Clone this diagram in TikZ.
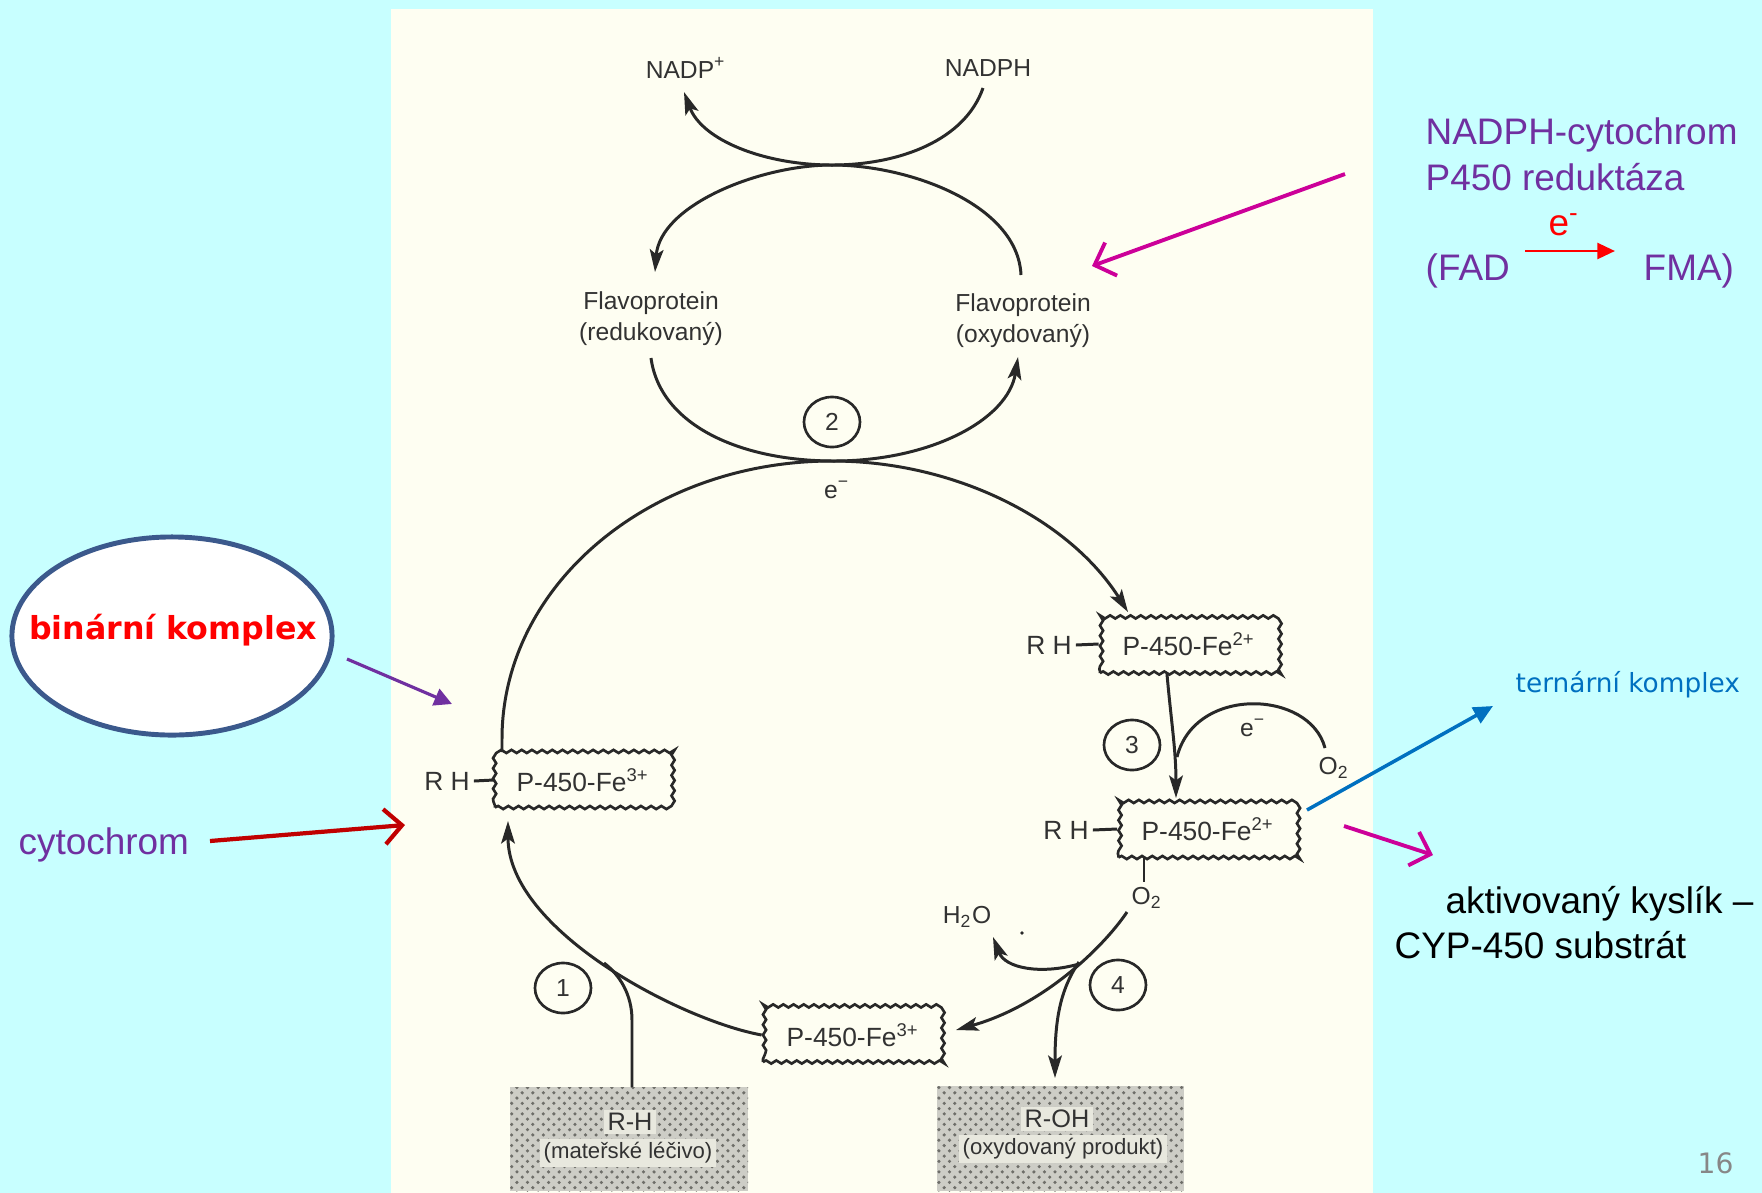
\documentclass[tikz,border=0pt]{standalone}
\usepackage{fontspec}
\setmainfont{Liberation Sans}
\newfontfamily\dvf{DejaVu Sans}
\usetikzlibrary{arrows.meta,decorations.pathmorphing,shapes.geometric,patterns}
\definecolor{bgc}{RGB}{200,255,255}
\definecolor{cream}{RGB}{254,254,242}
\definecolor{inkc}{RGB}{40,40,40}
\definecolor{txc}{RGB}{50,50,50}
\definecolor{purp}{RGB}{112,48,160}
\definecolor{mag}{RGB}{204,0,153}
\definecolor{dred}{RGB}{192,0,0}
\definecolor{blu}{RGB}{0,112,192}
\definecolor{ellc}{RGB}{59,89,140}
\definecolor{stipc}{RGB}{110,110,105}
\definecolor{stipbg}{RGB}{205,205,198}
\definecolor{lbl}{RGB}{232,232,222}
\definecolor{pgc}{RGB}{135,135,135}
\begin{document}
\begin{tikzpicture}[x=0.01cm,y=-0.01cm,
 ink/.style={draw=inkc,line width=0.85pt},
 arr/.style={-{Stealth[length=6.4pt,width=3.9pt,inset=1.4pt]}},
 dtext/.style={text=txc,font=\fontsize{7pt}{8.8pt}\selectfont,inner sep=1pt,align=center},
 btext/.style={text=txc,font=\fontsize{7.5pt}{9pt}\selectfont,inner sep=1pt},
 wbox/.style={draw=inkc,line width=0.75pt,fill=cream,decorate,decoration={snake,amplitude=0.45pt,segment length=2.9pt},text=txc,font=\fontsize{7.5pt}{9pt}\selectfont,inner sep=0pt},
 num/.style={ellipse,draw=inkc,line width=0.75pt,minimum width=0.56cm,minimum height=0.5cm,inner sep=0pt,text=txc,font=\fontsize{7pt}{8pt}\selectfont},
 stip/.style={fill=stipbg,postaction={pattern=crosshatch dots,pattern color=stipc}},
 ann/.style={font=\fontsize{10.5pt}{13pt}\selectfont,inner sep=0pt,anchor=base west},
 openhead/.style={-{Straight Barb[length=5pt,width=10pt]}},
]
\fill[bgc] (0,0) rectangle (1762,1193);
\useasboundingbox (0,0) rectangle (1762,1193);
\fill[cream] (391,9) rectangle (1373,1193);

% stippled boxes
\path[stip] (510,1087) rectangle (748,1191);
\path[stip] (937,1086) rectangle (1184,1191);
\node[dtext,fill=lbl,font=\fontsize{7.2pt}{9pt}\selectfont] (rh) at (630,1122) {R-H};
\node[dtext,fill=lbl,font=\fontsize{6.3pt}{8pt}\selectfont] (rhs) at (628,1153) {(mateřské léčivo)};
\node[dtext,fill=lbl,font=\fontsize{7.2pt}{9pt}\selectfont] (roh) at (1057,1119) {R-OH};
\node[dtext,fill=lbl,font=\fontsize{6.3pt}{8pt}\selectfont] (rohs) at (1063,1149) {(oxydovaný produkt)};

% labels
\node[dtext] (nadpp) at (686,68) {NADP\textsuperscript{+}};
\node[dtext] (nadph) at (988,68) {NADPH};
\node[dtext] (flr) at (651,319) {Flavoprotein\\(redukovaný)};
\node[dtext] (flo) at (1023,321) {Flavoprotein\\(oxydovaný)};
\node[num] (c2) at (832,422) {2};
\node[dtext] (em1) at (837,490) {e\textsuperscript{−}};

% boxes
\node[wbox,minimum width=1.76cm,minimum height=0.55cm] (bL) at (583,780) {P-450-Fe\textsuperscript{3+}};
\node[btext] (rhL) at (447,781) {R H};
\node[wbox,minimum width=1.78cm,minimum height=0.58cm] (bT) at (1189,644) {P-450-Fe\textsuperscript{2+}};
\node[btext] (rhT) at (1049,645) {R H};
\node[wbox,minimum width=1.79cm,minimum height=0.57cm] (bM) at (1208,829) {P-450-Fe\textsuperscript{2+}};
\node[btext] (rhM) at (1066,830) {R H};
\node[wbox,minimum width=1.8cm,minimum height=0.54cm] (bB) at (853,1035) {P-450-Fe\textsuperscript{3+}};
\draw[ink] (rhL.east) -- (bL.west);
\draw[ink] (rhT.east) -- (bT.west);
\draw[ink] (rhM.east) -- (bM.west);

\node[num] (c1) at (563,988) {1};
\node[num] (c3) at (1132,745) {3};
\node[num] (c4) at (1118,985) {4};
\node[dtext] (em3) at (1253,728) {e\textsuperscript{−}};
\node[dtext] (o2a) at (1334,768) {O\textsubscript{2}};
\node[dtext] (o2b) at (1147,898) {O\textsubscript{2}};
\node[dtext] (h2o) at (967,917) {H\textsubscript{2}O};
\fill[inkc] (1022,933) circle (1.8);

% top cycle
\draw[ink,arr] (983,88) .. controls (965,140) and (900,165) .. (832,165) .. controls (764,165) and (702,140) .. (684,92);
\draw[ink,arr] (832,165) .. controls (760,165) and (660,205) .. (655,272);
\draw[ink] (832,165) .. controls (910,165) and (1018,205) .. (1021,275);
\draw[ink,arr] (651,358) .. controls (660,425) and (740,461) .. (834,461) .. controls (930,461) and (1008,420) .. (1018,357);

% big loop
\draw[ink] (832,461) .. controls (650,461) and (502,585) .. (502,739) -- (502,752);
\draw[ink,arr] (832,461) .. controls (956,461) and (1070,520) .. (1128,612);
\draw[ink,arr] (bB.west) .. controls (680,1020) and (508,930) .. (508,821);
\draw[ink] (632,1087) -- (632,1020) .. controls (632,995) and (620,975) .. (604,963);

% step 3
\draw[ink,arr] (1167,674) .. controls (1171,720) and (1176,750) .. (1176,798);
\draw[ink] (1325,748) .. controls (1310,690) and (1195,685) .. (1177,757);
\draw[ink] (1144,858) -- (1144,882);

% step 4
\draw[ink,arr] (1127,912) .. controls (1105,945) and (1045,1005) .. (956,1030);
\draw[ink,arr] (1079,964) .. controls (1040,975) and (1005,968) .. (993,937);
\draw[ink,arr] (1079,962) .. controls (1060,990) and (1055,1020) .. (1055,1078);

% annotations right top
\draw[mag,line width=1.1pt,openhead] (1345,174) -- (1092,266);
\node[ann,text=purp] (t1) at (1425,144) {NADPH-cytochrom};
\node[ann,text=purp] (t2) at (1425,190) {P450 reduktáza};
\node[ann,text=red] (t3) at (1548,235) {e\textsuperscript{-}};
\node[ann,text=purp] (fad) at (1425,280) {(FAD};
\node[ann,text=purp] (fma) at (1643,280) {FMA)};
\draw[red,line width=0.8pt,-{Triangle[length=5pt,width=4.5pt]}] (1525,251) -- (1615,251);

% left annotations
\node[ellipse,draw=ellc,line width=1.4pt,fill=white,minimum width=3.2cm,minimum height=1.98cm] (ell) at (172,636) {};
\node[font=\dvf\bfseries\fontsize{9pt}{11pt}\selectfont,text=red,anchor=base,inner sep=0pt] (bk) at (173,639) {binární komplex};
\draw[purp,line width=0.9pt,-{Triangle[length=5pt,width=5pt]}] (347,659) -- (452,704);
\node[ann,text=purp] (cyt) at (18,854) {cytochrom};
\draw[dred,line width=1.2pt,openhead] (210,841) -- (405,825);

% right annotations
\node[font=\dvf\fontsize{7.5pt}{9pt}\selectfont,text=blu,anchor=base west,inner sep=0pt] (tk) at (1515,692) {ternární komplex};
\draw[blu,line width=1pt,-{Triangle[length=5.5pt,width=5pt]}] (1307,810) -- (1493,706);
\draw[mag,line width=1.1pt,openhead] (1344,826) -- (1433,855);
\node[ann] (ak) at (1445,913) {aktivovaný kyslík –};
\node[ann] (cyp) at (1394,958) {CYP-450 substrát};
\node[font=\dvf\fontsize{8pt}{9pt}\selectfont,text=pgc,anchor=base west,inner sep=0pt] (pg) at (1697,1173) {16};
\end{tikzpicture}
\end{document}
